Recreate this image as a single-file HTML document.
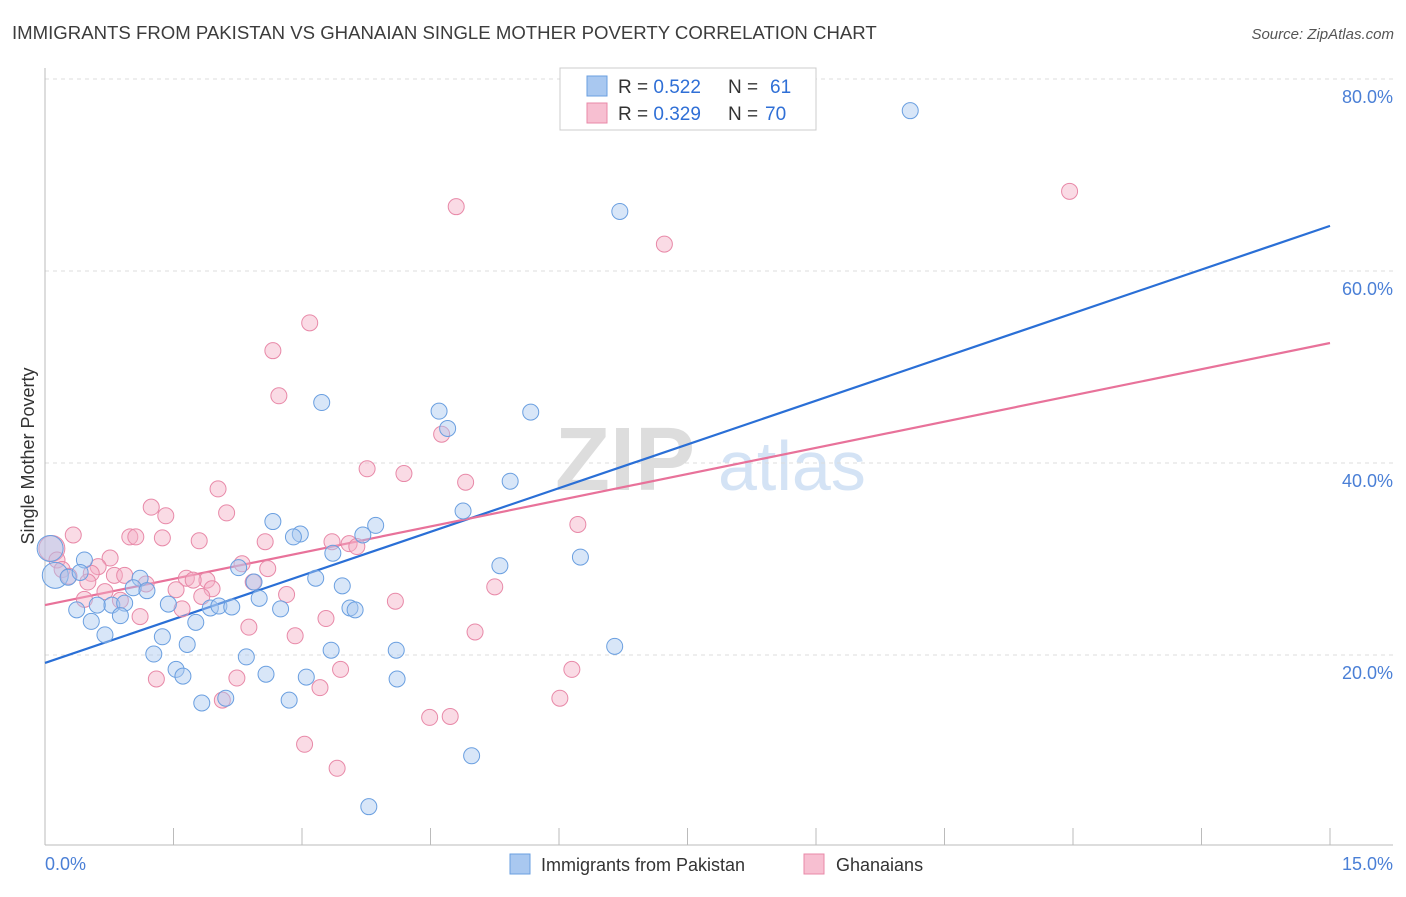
<!DOCTYPE html>
<html><head><meta charset="utf-8"><style>
body{margin:0;background:#fff;font-family:"Liberation Sans",sans-serif;}
svg text{font-family:"Liberation Sans",sans-serif;}
</style></head><body>
<svg id="chart" width="1406" height="892" xmlns="http://www.w3.org/2000/svg">
<text x="12" y="39" font-size="18.6" fill="#3c3c3c">IMMIGRANTS FROM PAKISTAN VS GHANAIAN SINGLE MOTHER POVERTY CORRELATION CHART</text>
<text x="1394" y="39" font-size="15" fill="#555" text-anchor="end" font-style="italic">Source: ZipAtlas.com</text>
<text transform="translate(34,456) rotate(-90)" font-size="18" fill="#333" text-anchor="middle">Single Mother Poverty</text>
<g>
<text x="555" y="490" font-size="90" fill="#ddd" font-family="Liberation Serif" font-weight="bold">ZIP</text>
<text x="718" y="490" font-size="70" fill="#d4e3f5">atlas</text>
</g>
<g id="grid"></g>
<g id="axes"></g>
<g id="lines"></g>
<g id="pts"></g>
<g>
<rect x="560" y="68" width="256" height="62" fill="#fff" stroke="#ccc"/>
<rect x="587" y="76" width="20" height="20" fill="#a9c8f0" stroke="#6a9fe0"/>
<rect x="587" y="103" width="20" height="20" fill="#f7bfd1" stroke="#e889a8"/>
<text x="618" y="93" font-size="19" fill="#333">R = <tspan fill="#2f6fd6">0.522</tspan></text>
<text x="728" y="93" font-size="19" fill="#333">N =</text>
<text x="770" y="93" font-size="19" fill="#2f6fd6">61</text>
<text x="618" y="120" font-size="19" fill="#333">R = <tspan fill="#2f6fd6">0.329</tspan></text>
<text x="728" y="120" font-size="19" fill="#333">N =</text>
<text x="765" y="120" font-size="19" fill="#2f6fd6">70</text>
</g>
<g>
<rect x="510" y="854" width="20" height="20" fill="#a9c8f0" stroke="#6a9fe0"/>
<text x="541" y="871" font-size="18" fill="#333">Immigrants from Pakistan</text>
<rect x="804" y="854" width="20" height="20" fill="#f7bfd1" stroke="#e889a8"/>
<text x="836" y="871" font-size="18" fill="#333">Ghanaians</text>
</g>
</svg>
<script>
const xTicks=[0,1.5,3,4.5,6,7.5,9,10.5,12,13.5,15];
const yTicks=[20,40,60,80];
const blueX=[10.10,6.71,3.23,4.60,5.67,4.70,5.43,4.88,3.86,2.66,2.98,2.90,3.71,3.36,6.25,5.31,0.46,0.06,0.12,0.27,0.41,2.26,2.44,3.16,3.47,1.11,1.03,1.19,2.50,1.44,0.78,0.61,0.93,1.93,2.03,2.18,2.75,3.56,3.62,0.37,0.88,0.54,1.76,0.70,1.37,1.66,6.65,3.34,4.10,1.27,2.35,1.53,1.61,2.58,3.05,4.11,2.11,1.83,2.85,4.98,3.78];
const blueY=[76.7,66.2,46.3,45.4,45.3,43.6,38.1,35.0,33.5,33.9,32.6,32.3,32.5,30.6,30.2,29.3,29.9,31.1,28.3,28.1,28.6,29.1,27.6,28.0,27.2,28.0,27.0,26.7,25.9,25.3,25.2,25.2,25.4,24.9,25.1,25.0,24.8,24.9,24.7,24.7,24.1,23.5,23.4,22.1,21.9,21.1,20.9,20.5,20.5,20.1,19.8,18.5,17.8,18.0,17.7,17.5,15.5,15.0,15.3,9.5,4.2];
const pinkX=[11.96,4.80,7.23,3.09,2.66,2.73,4.63,3.76,4.19,4.91,2.02,1.24,1.41,2.12,6.22,0.33,0.99,1.06,1.37,1.80,2.57,3.35,3.55,3.64,0.08,0.14,0.76,2.30,0.62,2.60,0.20,0.54,0.81,0.93,0.28,1.65,1.89,1.73,0.50,1.18,2.43,1.53,1.95,0.70,5.25,2.82,1.83,0.46,0.88,4.09,1.60,1.11,3.28,2.38,5.02,2.92,3.45,6.15,1.30,2.24,3.21,6.01,2.07,4.49,4.73,3.03,3.41];
const pinkY=[68.3,66.7,62.8,54.6,51.7,47.0,43.0,39.4,38.9,38.0,37.3,35.4,34.5,34.8,33.6,32.5,32.3,32.3,32.2,31.9,31.8,31.8,31.6,31.3,31.1,29.9,30.1,29.5,29.2,29.0,28.9,28.5,28.3,28.3,28.2,28.0,27.8,27.8,27.6,27.4,27.6,26.8,26.9,26.6,27.1,26.3,26.1,25.8,25.7,25.6,24.8,24.0,23.8,22.9,22.4,22.0,18.5,18.5,17.5,17.6,16.6,15.5,15.3,13.5,13.6,10.7,8.2];
const blueTrend=[19.17,64.7];
const pinkTrend=[25.2,52.5];
const NS="http://www.w3.org/2000/svg";
const sx=v=>45+v*85.667, sy=v=>847-v*9.6;
function mk(tag,attrs,parent){const e=document.createElementNS(NS,tag);for(const k in attrs)e.setAttribute(k,attrs[k]);document.getElementById(parent).appendChild(e);return e;}
yTicks.forEach(t=>{
 const g=mk('line',{x1:45,x2:1393,y1:sy(t),y2:sy(t),stroke:'#ddd','stroke-dasharray':'4,4'},'grid');
 
 
 const l=mk('text',{x:1393,y:sy(t)+24,'font-size':18,fill:'#4a7fd6','text-anchor':'end'},'grid');
 l.textContent=t.toFixed(1)+'%';
 
 
});
const ax=mk('line',{x1:45,x2:1393,y1:845,y2:845,stroke:'#bbb'},'axes');


const ay=mk('line',{x1:45,x2:45,y1:68,y2:845,stroke:'#bbb'},'axes');


xTicks.forEach(t=>{
 const k=mk('line',{x1:sx(t),x2:sx(t),y1:828,y2:845,stroke:'#bbb'},'axes');
 
 
});
const xl0=mk('text',{x:45,y:870,'font-size':18,fill:'#4a7fd6'},'axes');xl0.textContent=xTicks[0].toFixed(1)+'%';


const xl1=mk('text',{x:1393,y:870,'font-size':18,fill:'#4a7fd6','text-anchor':'end'},'axes');xl1.textContent=xTicks[xTicks.length-1].toFixed(1)+'%';


function pts(X,Y,fill,stroke,name){X.forEach((x,i)=>{
 const big=(x<0.15&&(Y[i]>30.5||Y[i]<28.5&&name==='pakistan-point'));
 const c=mk('circle',{cx:sx(x),cy:sy(Y[i]),r:big?13:8,fill:fill,'fill-opacity':0.45,stroke:stroke,'stroke-width':1},'pts');
 
 
});}
pts(pinkX,pinkY,'#f5b0c6','#e889a8','ghanaian-point');
pts(blueX,blueY,'#a9c8f0','#6a9fe0','pakistan-point');
const bl=mk('line',{x1:sx(0),x2:sx(15),y1:sy(blueTrend[0]),y2:sy(blueTrend[1]),stroke:'#2a6fd6','stroke-width':2.2},'lines');


const pl=mk('line',{x1:sx(0),x2:sx(15),y1:sy(pinkTrend[0]),y2:sy(pinkTrend[1]),stroke:'#e8729a','stroke-width':2.2},'lines');


</script>
</body></html>
